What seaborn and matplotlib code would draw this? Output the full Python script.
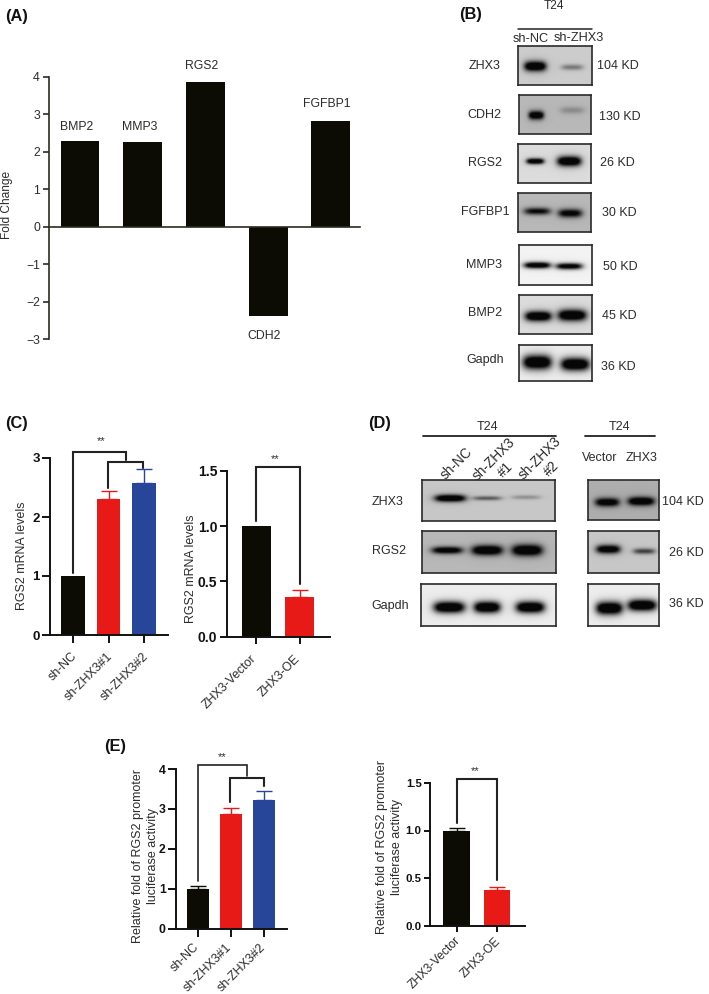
import numpy as np
import pandas as pd
import matplotlib
matplotlib.use('Agg')
import matplotlib.pyplot as plt
from matplotlib.transforms import ScaledTranslation
import seaborn as sns

# values
a_genes = ['BMP2', 'MMP3', 'RGS2', 'CDH2', 'FGFBP1']
a_fold = [2.28, 2.26, 3.87, -2.38, 2.83]

c1_groups = ['sh-NC', 'sh-ZHX3#1', 'sh-ZHX3#2']
c1_mean = [1.0, 2.30, 2.57]
c1_top = [1.0, 2.44, 2.81]

c2_groups = ['ZHX3-Vector', 'ZHX3-OE']
c2_mean = [1.0, 0.36]
c2_top = [1.0, 0.42]

e1_groups = ['sh-NC', 'sh-ZHX3#1', 'sh-ZHX3#2']
e1_mean = [1.0, 2.86, 3.23]
e1_top = [1.06, 3.02, 3.44]

e2_groups = ['ZHX3-Vector', 'ZHX3-OE']
e2_mean = [0.99, 0.37]
e2_top = [1.03, 0.41]

# band darkness per lane of each blot, and the background grey
b_names = ['ZHX3', 'CDH2', 'RGS2', 'FGFBP1', 'MMP3', 'BMP2', 'Gapdh']
b_sizes = ['104 KD', '130 KD', '26 KD', '30 KD', '50 KD', '45 KD', '36 KD']
b_bands = [[1.0, 0.3], [0.95, 0.18], [0.95, 1.0], [0.72, 0.8], [0.92, 0.85], [1.0, 1.0], [1.0, 1.0]]
b_grey = [0.80, 0.72, 0.86, 0.72, 0.95, 0.86, 0.93]

d_names = ['ZHX3', 'RGS2', 'Gapdh']
d_sizes = ['104 KD', '26 KD', '36 KD']
d_left = [[1.0, 0.4, 0.2], [0.88, 1.0, 1.0], [1.0, 1.0, 1.0]]
d_right = [[0.9, 1.0], [0.92, 0.5], [1.0, 1.0]]
d_left_grey = [0.78, 0.72, 0.93]
d_right_grey = [0.68, 0.78, 0.93]

BLACK = '#0c0c04'
RED = '#e71a17'
BLUE = '#27469a'
INK = '#2b2b2b'
W, H = 709, 994

sns.set_theme(style='ticks')
plt.rcParams['font.family'] = ['Liberation Sans', 'DejaVu Sans']

fig = plt.figure(figsize=(W / 100, H / 100), dpi=100)


def px_axes(x0, x1, top, bottom):
    return fig.add_axes([x0 / W, 1 - bottom / H, (x1 - x0) / W, (bottom - top) / H])


def label(x, y, s, size=8.8, **kw):
    kw.setdefault('color', INK)
    fig.text(x / W, 1 - y / H, s, fontsize=size, ha='center', va='center', **kw)


def bars(box, first, step, wpx, names, means, colors, tops=None, ylim=(0, 1), ticks=None,
         fmt='%d', tsize=8.8, lsize=8.9, lw=1.4, tlen=5.5, shift=(0, 0)):
    ax = px_axes(*box)
    df = pd.DataFrame({'group': names, 'value': means})
    sns.barplot(data=df, x='group', y='value', hue='group', palette=colors, legend=False,
                width=wpx / step, saturation=1, linewidth=0, ax=ax)
    ax.set_xlim((box[0] - first) / step, (box[1] - first) / step)
    ax.set_ylim(*ylim)
    ax.set_xlabel('')
    ax.set_ylabel('')
    ax.set_yticks(ticks)
    ax.set_yticklabels([fmt % t for t in ticks], fontsize=tsize, fontweight='bold', color='#111111')
    ax.tick_params(axis='y', length=tlen, width=lw, color='#111111', pad=1.5)
    ax.tick_params(axis='x', length=tlen, width=lw, color='#111111', pad=3)
    plt.setp(ax.get_xticklabels(), rotation=45, ha='right', rotation_mode='anchor',
             fontsize=lsize, color=INK)
    offset = ScaledTranslation(shift[0] / 100, -shift[1] / 100, fig.dpi_scale_trans)
    for t in ax.get_xticklabels():
        t.set_transform(t.get_transform() + offset)
    sns.despine(ax=ax)
    for s in ['left', 'bottom']:
        ax.spines[s].set_linewidth(lw)
        ax.spines[s].set_color('#111111')
    if tops is not None:
        for i, (m, t) in enumerate(zip(means, tops)):
            if t > m:
                ax.errorbar(i, m, yerr=[[0], [t - m]], color=colors[i], capsize=5.5,
                            capthick=1, elinewidth=1, clip_on=False)
    return ax


def bracket(ax, x0, x1, y0, ytop, y1, lw=1.5):
    ax.plot([x0, x0, x1, x1], [y0, ytop, ytop, y1], color='#222222', lw=lw,
            clip_on=False, solid_joinstyle='miter')


def stars(ax, x, y):
    ax.text(x, y, '**', fontsize=8, ha='center', va='center', color=INK, clip_on=False)


def blot(box, grey, strengths, xs, ys, ws, hs):
    x0, x1, top, bottom = box
    ax = px_axes(*box)
    gx, gy = np.meshgrid(np.arange(x0, x1, 0.5), np.arange(top, bottom, 0.5))
    img = np.full(gx.shape, grey)
    for s, bx, by, w, h in zip(strengths, xs, ys, ws, hs):
        # soft halo plus dense core of the band
        img -= 0.2 * s * grey * np.exp(-((gx - bx) / (w * 1.25)) ** 2 - ((gy - by) / (h * 2.2)) ** 2)
        img -= 1.2 * s * grey * np.exp(-((gx - bx) / (w * 1.1)) ** 4 - ((gy - by) / (h * 1.35)) ** 2)
    ax.imshow(np.clip(img, 0.03, 1), cmap='gray', vmin=0, vmax=1, aspect='auto',
              extent=(x0, x1, bottom, top), interpolation='bilinear')
    ax.set_xticks([])
    ax.set_yticks([])
    for s in ax.spines.values():
        s.set_visible(True)
        s.set_linewidth(1.2)
        s.set_color('#2a2a2a')


# (A)
axA = px_axes(49, 360, 77, 339)
dfA = pd.DataFrame({'gene': a_genes, 'fold': a_fold})
sns.barplot(data=dfA, x='gene', y='fold', color=BLACK, saturation=1, width=0.62, linewidth=0, ax=axA)
axA.set_xlim((49 - 80) / 62.7, (360 - 80) / 62.7)
axA.set_ylim(-3, 4)
axA.set_yticks(range(-3, 5))
axA.set_xticks([])
axA.set_xlabel('')
axA.set_ylabel('')
axA.tick_params(axis='y', length=4.5, width=1.2, color='#2b2b20', labelsize=8.8, labelcolor=INK, pad=2)
sns.despine(ax=axA)
axA.spines['bottom'].set_position(('data', 0))
for s in ['left', 'bottom']:
    axA.spines[s].set_linewidth(1.2)
    axA.spines[s].set_color('#2b2b20')
label(7, 205, 'Fold Change', size=8.6, rotation=90)
for x, y, s in zip([77, 140, 202, 264, 327], [127.5, 127, 66, 336, 104], a_genes):
    label(x, y, s)

# (B)
label(554, 6, 'T24', size=8.6)
fig.add_artist(plt.Line2D([518 / W, 592 / W], [1 - 29 / H, 1 - 29 / H], color='#222222', lw=1.1))
label(531, 39, 'sh-NC', size=9.2)
label(579, 38, 'sh-ZHX3', size=9.2)
b_boxes = [(518, 592, 46, 85), (519, 591, 95, 134), (518, 591, 144, 183), (518, 591, 193, 232),
           (519, 592, 245, 285), (519, 592, 295, 334), (519, 592, 345, 381)]
b_x = [(535, 572), (536, 572), (535, 569), (537, 570), (537, 569), (538, 572), (537, 575)]
b_y = [(66, 67), (115, 110), (161, 161), (211, 213), (265, 266), (316, 315), (362, 364)]
b_w = [(10, 10), (7, 11), (8, 11), (12, 11), (12, 12), (12, 13), (13, 13)]
b_h = [(3.5, 2), (3, 2.5), (2, 3.5), (2.5, 3), (2.2, 2.2), (3.5, 4), (5, 4.5)]
for i in range(7):
    blot(b_boxes[i], b_grey[i], b_bands[i], b_x[i], b_y[i], b_w[i], b_h[i])
for x, y, s in zip([485, 484, 485, 485, 484, 485, 485], [66, 115, 163, 212, 265, 313, 360], b_names):
    label(x, y, s, size=9)
for x, y, s in zip([618, 620, 617, 619, 620, 619, 618], [66, 117, 163, 213, 267, 316, 367], b_sizes):
    label(x, y, s, size=9)

# (C)
axC1 = bars((50, 168, 458, 635), 73, 35.5, 23.3, c1_groups, c1_mean, [BLACK, RED, BLUE], c1_top,
            (0, 3), [0, 1, 2, 3], tsize=9.5, tlen=5.8, shift=(-2, 3))
bracket(axC1, 0, 1.5, 1.05, 3.11, 2.97)
bracket(axC1, 0.99, 1.98, 2.49, 2.93, 2.83)
stars(axC1, 0.78, 3.28)
label(22.5, 556, 'RGS2 mRNA levels', size=8.9, rotation=90)

axC2 = bars((226.5, 330, 471, 636.5), 256, 43.7, 29, c2_groups, c2_mean, [BLACK, RED], c2_top,
            (0, 1.5), [0, 0.5, 1, 1.5], fmt='%.1f', tsize=10, tlen=5, shift=(-6, 5))
bracket(axC2, 0, 1, 1.05, 1.54, 0.48)
stars(axC2, 0.44, 1.61)
label(191, 569, 'RGS2 mRNA levels', size=8.9, rotation=90)

# (D)
label(488, 427, 'T24', size=9)
label(620, 427, 'T24', size=9)
for xs in [(423, 556), (585, 655)]:
    fig.add_artist(plt.Line2D([xs[0] / W, xs[1] / W], [1 - 436 / H, 1 - 436 / H], color='#222222', lw=1.3))
label(457, 463, 'sh-NC', size=9.8, rotation=45)
label(494, 459, 'sh-ZHX3', size=9.8, rotation=45)
label(505, 470, '#1', size=9.8, rotation=45)
label(540, 458, 'sh-ZHX3', size=9.8, rotation=45)
label(551, 469, '#2', size=9.8, rotation=45)
label(600, 458, 'Vector', size=9)
label(642, 458, 'ZHX3', size=9)

d_boxes_l = [(422, 555, 480, 521), (422, 556, 531, 573), (421, 556, 584, 626)]
d_boxes_r = [(588, 659, 480, 520), (588, 659, 531, 573), (588, 659, 584, 626)]
d_lx = [(450, 487, 526), (447, 487, 527), (449, 487, 530)]
d_ly = [(498, 498, 497), (550, 550, 550), (607, 607, 607)]
d_lw = [(14, 13, 13), (14, 14, 14), (14, 12, 13)]
d_lh = [(2.5, 1.5, 1.5), (2.5, 3.5, 4), (4, 4, 4)]
d_rx = [(607, 641), (608, 644), (609, 642)]
d_ry = [(502, 501), (549, 551), (608, 605)]
d_rw = [(11, 12), (11, 10), (12, 13)]
d_rh = [(3, 3), (3, 2), (4.5, 4)]
for i in range(3):
    blot(d_boxes_l[i], d_left_grey[i], d_left[i], d_lx[i], d_ly[i], d_lw[i], d_lh[i])
    blot(d_boxes_r[i], d_right_grey[i], d_right[i], d_rx[i], d_ry[i], d_rw[i], d_rh[i])
for x, y, s in zip([388, 389, 390], [502, 551, 606], d_names):
    label(x, y, s, size=9)
for x, y, s in zip([683, 686, 686], [502, 553, 604], d_sizes):
    label(x, y, s, size=9)

# (E)
axE1 = bars((175.5, 287, 769, 928.5), 197.7, 33.2, 22, e1_groups, e1_mean, [BLACK, RED, BLUE], e1_top,
            (0, 4), [0, 1, 2, 3, 4], tsize=8.8, tlen=5.5, lsize=8.9, shift=(-5, 1))
bracket(axE1, 0, 1.49, 1.18, 4.10, 3.82, lw=1.2)
bracket(axE1, 0.98, 2.0, 3.18, 3.77, 3.57)
stars(axE1, 0.73, 4.29)
label(145.5, 856, 'Relative fold of RGS2 promoter\nluciferase activity', size=9, rotation=90, linespacing=1.25)

axE2 = bars((430, 525, 783, 925.5), 456.7, 40.3, 26.7, e2_groups, e2_mean, [BLACK, RED], e2_top,
            (0, 1.5), [0, 0.5, 1, 1.5], fmt='%.1f', tsize=8.2, tlen=4.5, lsize=8.6, shift=(-2, -1))
bracket(axE2, 0, 1, 1.08, 1.546, 0.48)
stars(axE2, 0.47, 1.63)
label(389.5, 847, 'Relative fold of RGS2 promoter\nluciferase activity', size=9, rotation=90, linespacing=1.25)

for x, y, s in [(17, 16, '(A)'), (471, 15, '(B)'), (16, 423, '(C)'), (380, 423, '(D)'), (115, 747, '(E)')]:
    label(x, y, s, size=11.8, fontweight='bold', color='#111111')

fig.savefig('out.png', dpi=100)
